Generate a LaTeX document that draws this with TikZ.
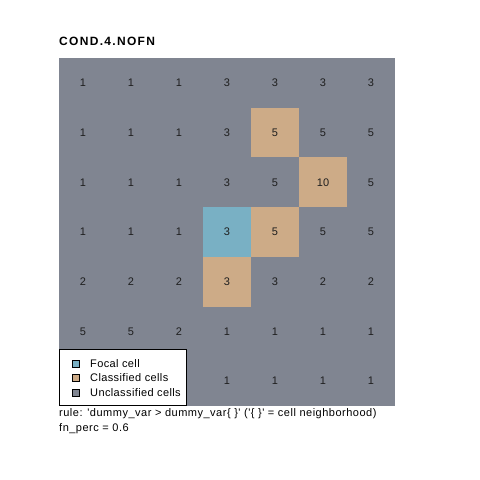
\documentclass[tikz,border=0pt]{standalone}
\usepackage{fontspec}
\setmainfont{Liberation Sans}
\newfontfamily\mytitlefont[LetterSpace=11]{Liberation Sans}
\newfontfamily\mybodyfont[LetterSpace=3.5]{Liberation Sans}
\newfontfamily\mynotefont[LetterSpace=4.6]{Liberation Sans}
\definecolor{ugrey}{RGB}{128,133,145}
\definecolor{ctan}{RGB}{205,171,135}
\definecolor{fblue}{RGB}{121,176,196}
\definecolor{numc}{RGB}{30,30,30}
\begin{document}
\begin{tikzpicture}[x=1pt,y=-1pt,
  num/.style={font=\fontsize{11}{12}\selectfont, text=numc, inner sep=0pt},
  cellbox/.style={minimum width=48pt, minimum height=49.71pt, inner sep=0pt, outer sep=0pt},
  lgbox/.style={draw=black, line width=0.5pt, minimum size=7pt, inner sep=0pt},
  lgtext/.style={font=\mybodyfont\fontsize{11}{12}\selectfont, anchor=west, inner sep=0pt},
  note/.style={font=\mynotefont\fontsize{11}{12}\selectfont, anchor=west, inner sep=0pt}]
\useasboundingbox (0,0) rectangle (480,480);
\fill[white] (0,0) rectangle (480,480);
\node[font=\mytitlefont\bfseries\fontsize{12}{14}\selectfont, anchor=west, inner sep=0pt] (title) at (59,41) {COND.4.NOFN};
\fill[ugrey] (59,58) rectangle (395,406);
% classified cells
\node[cellbox, fill=ctan] (c14) at (275,132.6) {};
\node[cellbox, fill=ctan] (c25) at (323,182.3) {};
\node[cellbox, fill=ctan] (c34) at (275,232.0) {};
\node[cellbox, fill=ctan] (c43) at (227,281.7) {};
\node[cellbox, fill=fblue] (c33) at (227,232.0) {};
% numbers
\foreach \r/\vals in {0/{1,1,1,3,3,3,3},1/{1,1,1,3,5,5,5},2/{1,1,1,3,5,10,5},3/{1,1,1,3,5,5,5},4/{2,2,2,3,3,2,2},5/{5,5,2,1,1,1,1}}{
  \foreach \v [count=\c from 0] in \vals {
    \node[num] (n\r\c) at ({83+48*\c},{58+49.714*(\r+0.5)}) {\v};
  }
}
\foreach \c in {3,4,5,6}{
  \node[num] (n6\c) at ({83+48*\c},{58+49.714*6.5}) {1};
}
% legend
\node[draw=black, fill=white, line width=0.6pt, minimum width=126.5pt, minimum height=56pt, anchor=north west, inner sep=0pt] (legend) at (59.3,349) {};
\node[lgbox, fill=fblue] (k1) at (76,363.5) {};
\node[lgbox, fill=ctan] (k2) at (76,378) {};
\node[lgbox, fill=ugrey] (k3) at (76,392.5) {};
\node[lgtext] (t1) at (90,363.5) {Focal cell};
\node[lgtext] (t2) at (90,378) {Classified cells};
\node[lgtext] (t3) at (90,392.5) {Unclassified cells};
% notes
\node[note] (rule) at (59,413.5) {rule: 'dummy\_var > dummy\_var\{ \}' ('\{ \}' = cell neighborhood)};
\node[note] (fn) at (59,428.5) {fn\_perc = 0.6};
\end{tikzpicture}
\end{document}
